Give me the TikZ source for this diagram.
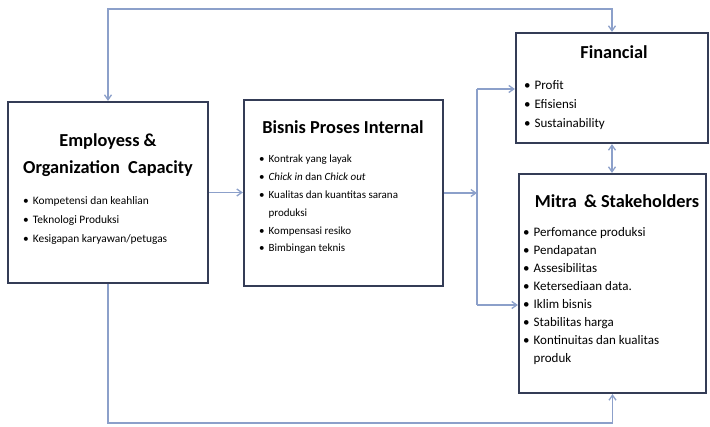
\documentclass[tikz,border=0pt]{standalone}
\usepackage{fontspec}
\setmainfont{Carlito}
\usepackage{xcolor}
\usepackage{tikz}
\usetikzlibrary{positioning}
\usetikzlibrary{arrows.meta}
\definecolor{boxline}{RGB}{52,60,86}
\definecolor{linkline}{RGB}{140,160,202}
\newcommand{\bul}{\textbullet\hspace{4pt}}
\newcommand{\bulgap}{\hphantom{\textbullet\hspace{4pt}}}
\tikzset{
    boxnode/.style = {rectangle, draw=boxline, line width=2.2pt, fill=white, inner sep=0pt},
    titlenode/.style = {align=center, inner sep=0pt, font=\bfseries\fontsize{18.3}{27}\selectfont},
    listnode/.style = {align=left, inner sep=0pt, anchor=north west, font=\fontsize{12.5}{18.5}\selectfont},
}
\begin{document}
\begin{tikzpicture}[
	x=1pt,
	y=-1pt
]
\tikzset{
    link/.style = {draw=linkline, line width=1.3pt, -{Straight Barb[length=5pt,width=7pt]}},
    linkb/.style = {draw=linkline, line width=1.3pt, {Straight Barb[length=5pt,width=7pt]}-{Straight Barb[length=5pt,width=7pt]}},
    linkn/.style = {draw=linkline, line width=1.3pt},
}
\useasboundingbox (0,0) rectangle (710,426);
\node[boxnode, minimum width=200pt, minimum height=181pt] at (108,192.5) (emp) {};
\node[boxnode, minimum width=199pt, minimum height=186pt] at (343.5,193) (bis) {};
\node[boxnode, minimum width=192pt, minimum height=110pt] at (612,88) (fin) {};
\node[boxnode, minimum width=187pt, minimum height=219pt] at (612.5,283.5) (mit) {};
\coordinate (j) at (477,193);
%
\node[titlenode] at (108,155) (empt) {Employess \&\\Organization~~Capacity};
\node[titlenode] at (343,127) (bist) {Bisnis Proses Internal};
\node[titlenode] at (614,52) (fint) {Financial};
\node[titlenode] at (617,201) (mitt) {Mitra \,\& Stakeholders};
%
\node[listnode, font=\fontsize{11.4}{19.2}\selectfont] at (23,196) (empl) {\bul Kompetensi dan keahlian\\
\bul Teknologi Produksi\\
\bul Kesigapan karyawan/petugas};
\node[listnode, font=\fontsize{11}{17.8}\selectfont] at (259,155) (bisl) {\bul Kontrak yang layak\\
\bul \textit{Chick in} dan \textit{Chick out}\\
\bul Kualitas dan kuantitas sarana\\
\bulgap produksi\\
\bul Kompensasi resiko\\
\bul Bimbingan teknis};
\node[listnode, font=\fontsize{13}{19}\selectfont] at (524,80) (finl) {\bul Profit\\
\bul Efisiensi\\
\bul Sustainability};
\node[listnode, font=\fontsize{13}{18.1}\selectfont] at (523,227) (mitl) {\bul Perfomance produksi\\
\bul Pendapatan\\
\bul Assesibilitas\\
\bul Ketersediaan data.\\
\bul Iklim bisnis\\
\bul Stabilitas harga\\
\bul Kontinuitas dan kualitas\\
\bulgap produk};
%
\draw[link] (emp.east) -- (emp.east -| bis.west);
\draw[link] (bis.east) -- (j);
\draw[linkn] (j) -- (j |- 0,89);
\draw[linkn] (j) -- (j |- 0,305);
\draw[link] (j |- 0,89) -- (fin.west |- 0,89);
\draw[link] (j |- 0,305) -- (mit.west |- 0,305);
%
\draw[linkb] (emp.north) -- (emp.north |- 0,9) -| (fin.north);
\draw[link] (emp.south) -- (emp.south |- 0,423) -| (mit.south);
\draw[linkb] (fin.south) -- (fin.south |- mit.north);
\end{tikzpicture}
\end{document}
